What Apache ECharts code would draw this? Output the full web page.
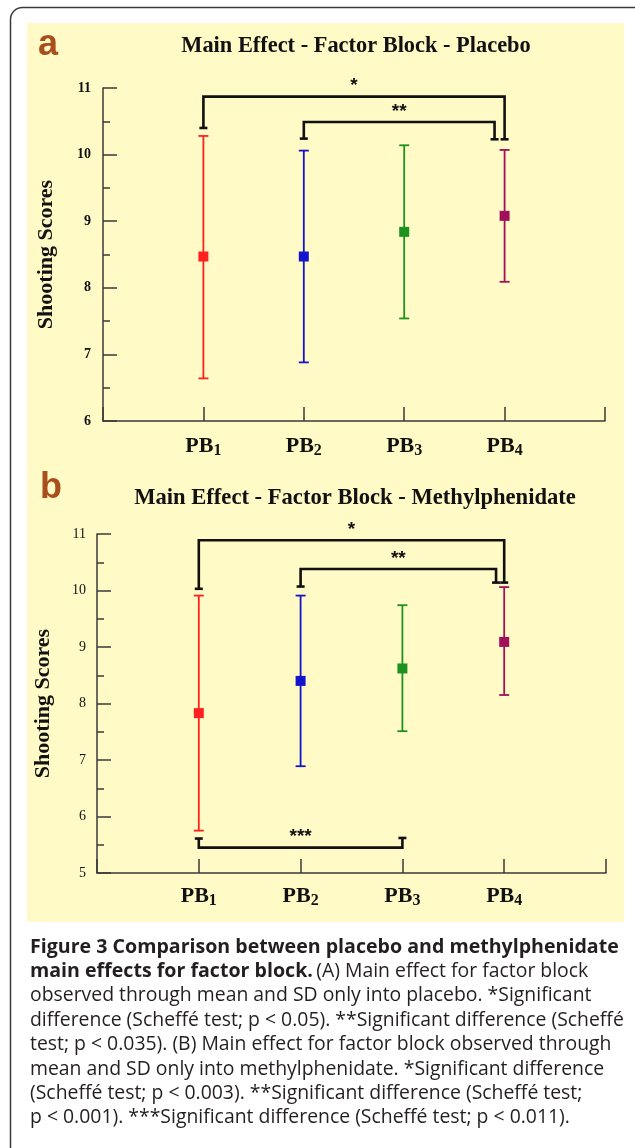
<!DOCTYPE html>
<html>
<head>
<meta charset="utf-8">
<style>
html, body { margin: 0; padding: 0; background: #fff; }
#chart { width: 635px; height: 1148px; }
</style>
<script src="https://cdn.jsdelivr.net/npm/echarts@6/dist/echarts.min.js"></script>
</head>
<body>
<div id="chart"></div>
<script>
// blocks on the x axis (PB + subscript)
var blocks = ['1', '2', '3', '4'];
var blockPos = [1, 2, 3, 4];
var blockColors = ['#ff2020', '#1414cc', '#1e921e', '#a0105c'];

// a - placebo (mean, mean - SD, mean + SD)
var placeboMean = [8.47, 8.47, 8.84, 9.08];
var placeboLow = [6.64, 6.88, 7.54, 8.09];
var placeboHigh = [10.28, 10.06, 10.14, 10.07];

// b - methylphenidate
var mphMean = [7.83, 8.40, 8.62, 9.09];
var mphLow = [5.75, 6.89, 7.51, 8.15];
var mphHigh = [9.91, 9.91, 9.74, 10.06];

// significance brackets: from, to, bar level, foot level at each end
var placeboBrFrom = [1, 2];
var placeboBrTo = [4, 3.9];
var placeboBrBar = [10.87, 10.49];
var placeboBrFootFrom = [10.40, 10.24];
var placeboBrFootTo = [10.23, 10.23];
var placeboBrLabel = ['*', '**'];

var mphBrFrom = [1, 2, 1];
var mphBrTo = [4, 3.92, 3];
var mphBrBar = [10.89, 10.38, 5.45];
var mphBrFootFrom = [10.03, 10.07, 5.61];
var mphBrFootTo = [10.14, 10.14, 5.62];
var mphBrLabel = ['*', '**', '***'];

var captionLines = [
    'observed through mean and SD only into placebo. *Significant',
    'difference (Scheff\u00e9 test; p < 0.05). **Significant difference (Scheff\u00e9',
    'test; p < 0.035). (B) Main effect for factor block observed through',
    'mean and SD only into methylphenidate. *Significant difference',
    '(Scheff\u00e9 test; p < 0.003). **Significant difference (Scheff\u00e9 test;',
    'p < 0.001). ***Significant difference (Scheff\u00e9 test; p < 0.011).'
];

var serif = 'Liberation Serif';
var sans = 'Liberation Sans';
var axisColor = '#3a3a3a';
var capFont = '19.4px "Open Sans"';
var capBold = 'bold 19.6px "Open Sans"';

function barData(mean, low, high) {
    return blockPos.map((x, i) => [x, mean[i], low[i], high[i]]);
}

function bracketData(from, to, bar, f1, f2) {
    return from.map((x, i) => [x, to[i], bar[i], f1[i], f2[i]]);
}

function renderErrorBar(params, api) {
    var c = blockColors[params.dataIndex];
    var x = api.value(0);
    var m = api.coord([x, api.value(1)]);
    var lo = api.coord([x, api.value(2)]);
    var hi = api.coord([x, api.value(3)]);
    var cap = 5, half = 5;
    var ls = {stroke: c, lineWidth: 1.8};
    return {
        type: 'group',
        children: [
            {type: 'line', shape: {x1: lo[0], y1: lo[1], x2: hi[0], y2: hi[1]}, style: ls},
            {type: 'line', shape: {x1: lo[0] - cap, y1: lo[1], x2: lo[0] + cap, y2: lo[1]}, style: ls},
            {type: 'line', shape: {x1: hi[0] - cap, y1: hi[1], x2: hi[0] + cap, y2: hi[1]}, style: ls},
            {type: 'rect', shape: {x: m[0] - half, y: m[1] - half, width: half * 2, height: half * 2}, style: {fill: c}}
        ]
    };
}

function bracketRenderer(labels) {
    return function (params, api) {
        var p1 = api.coord([api.value(0), api.value(3)]);
        var t1 = api.coord([api.value(0), api.value(2)]);
        var t2 = api.coord([api.value(1), api.value(2)]);
        var p2 = api.coord([api.value(1), api.value(4)]);
        var ls = {stroke: '#111', lineWidth: 2.6, fill: null};
        return {
            type: 'group',
            children: [
                {type: 'polyline', shape: {points: [p1, t1, t2, p2]}, style: ls},
                {type: 'line', shape: {x1: p1[0] - 4, y1: p1[1], x2: p1[0] + 4, y2: p1[1]}, style: ls},
                {type: 'line', shape: {x1: p2[0] - 4, y1: p2[1], x2: p2[0] + 4, y2: p2[1]}, style: ls},
                {type: 'text', x: (t1[0] + t2[0]) / 2, y: t1[1] - 1, style: {
                    text: labels[params.dataIndex], fill: '#111', align: 'center', verticalAlign: 'bottom',
                    font: 'bold 19px ' + sans
                }}
            ]
        };
    };
}

function xAxisFor(grid, margin) {
    return {
        gridIndex: grid,
        type: 'value',
        min: 0,
        max: 5,
        interval: 1,
        axisLine: {lineStyle: {color: axisColor, width: 1.5}},
        axisTick: {inside: true, length: 14, lineStyle: {color: axisColor, width: 1.5}},
        splitLine: {show: false},
        axisLabel: {
            margin: margin,
            showMinLabel: true,
            showMaxLabel: true,
            formatter: (v) => {
                var i = blockPos.indexOf(v);
                return i < 0 ? '' : '{p|PB}{s|' + blocks[i] + '}';
            },
            rich: {
                p: {fontFamily: serif, fontWeight: 'bold', fontSize: 22, color: '#111', lineHeight: 24, verticalAlign: 'top'},
                s: {fontFamily: serif, fontWeight: 'bold', fontSize: 16, color: '#111', lineHeight: 24,
                    verticalAlign: 'bottom', padding: [5, 0, 0, 0]}
            }
        }
    };
}

// main y axis: labels + long inside ticks
function yAxisFor(grid, min, gap, margin, bold) {
    return {
        gridIndex: grid,
        type: 'value',
        min: min,
        max: 11,
        interval: 1,
        name: 'Shooting Scores',
        nameLocation: 'middle',
        nameGap: gap,
        nameRotate: 90,
        nameTextStyle: {fontFamily: serif, fontWeight: 'bold', fontSize: 22, color: '#111'},
        axisLine: {show: true, lineStyle: {color: axisColor, width: 1.5}},
        axisTick: {inside: true, length: 14, lineStyle: {color: axisColor, width: 1.5}},
        splitLine: {show: false},
        axisLabel: {margin: margin, fontFamily: serif, fontWeight: bold ? 'bold' : 'normal', fontSize: 14, color: '#111'}
    };
}

// overlay y axis for the short half-unit ticks (minorTick can't point inside)
function halfTickAxis(grid, min) {
    return {
        gridIndex: grid,
        type: 'value',
        position: 'left',
        offset: 0,
        min: min,
        max: 11,
        interval: 0.5,
        axisLine: {show: false},
        axisTick: {show: true, inside: true, length: 7, lineStyle: {color: axisColor, width: 1.5}},
        axisLabel: {show: false},
        splitLine: {show: false}
    };
}

var chart = echarts.init(document.getElementById('chart'));

var graphics = [
    {type: 'rect', z: -20, shape: {x: 10.5, y: 7.5, width: 640, height: 1160, r: 12}, style: {fill: '#fff', stroke: '#3a3a3a', lineWidth: 1.5}},
    {type: 'rect', z: -10, shape: {x: 27, y: 23, width: 597, height: 899}, style: {fill: '#fffac6'}},
    {type: 'text', x: 38, y: 45, style: {text: 'a', font: 'bold 36px ' + sans, fill: '#a8501c', verticalAlign: 'middle'}},
    {type: 'text', x: 40, y: 488, style: {text: 'b', font: 'bold 36px ' + sans, fill: '#a8501c', verticalAlign: 'middle'}},
    {type: 'text', x: 30, y: 947, style: {
        text: 'Figure 3 Comparison between placebo and methylphenidate',
        font: capBold, fill: '#231f20', verticalAlign: 'middle'
    }},
    {type: 'text', x: 30, y: 971.4, style: {
        text: '{b|main effects for factor block.} {r|(A) Main effect for factor block}',
        verticalAlign: 'middle',
        rich: {
            b: {font: capBold, fill: '#231f20'},
            r: {font: capFont, fill: '#231f20'}
        }
    }}
];
captionLines.forEach((line, i) => {
    graphics.push({type: 'text', x: 30, y: 995.8 + i * 24.4, style: {
        text: line, font: capFont, fill: '#231f20', verticalAlign: 'middle'
    }});
});

var option = {
    backgroundColor: '#fff',
    animation: false,
    title: [
        {text: 'Main Effect - Factor Block - Placebo', left: 351, top: 30, textAlign: 'center',
            textStyle: {fontFamily: serif, fontWeight: 'bold', fontSize: 22.4, color: '#111'}},
        {text: 'Main Effect - Factor Block - Methylphenidate', left: 350, top: 482, textAlign: 'center',
            textStyle: {fontFamily: serif, fontWeight: 'bold', fontSize: 22.6, color: '#111'}}
    ],
    grid: [
        {left: 103, top: 88, width: 502, height: 333},
        {left: 97, top: 534, width: 509, height: 339}
    ],
    xAxis: [xAxisFor(0, 14), xAxisFor(1, 12)],
    yAxis: [
        yAxisFor(0, 6, 46, 12, true),
        halfTickAxis(0, 6),
        yAxisFor(1, 5, 43, 11, false),
        halfTickAxis(1, 5)
    ],
    graphic: graphics,
    series: [
        {type: 'custom', xAxisIndex: 0, yAxisIndex: 0, clip: false, renderItem: renderErrorBar,
            data: barData(placeboMean, placeboLow, placeboHigh)},
        {type: 'custom', xAxisIndex: 1, yAxisIndex: 2, clip: false, renderItem: renderErrorBar,
            data: barData(mphMean, mphLow, mphHigh)},
        {type: 'custom', xAxisIndex: 0, yAxisIndex: 0, clip: false, renderItem: bracketRenderer(placeboBrLabel),
            data: bracketData(placeboBrFrom, placeboBrTo, placeboBrBar, placeboBrFootFrom, placeboBrFootTo)},
        {type: 'custom', xAxisIndex: 1, yAxisIndex: 2, clip: false, renderItem: bracketRenderer(mphBrLabel),
            data: bracketData(mphBrFrom, mphBrTo, mphBrBar, mphBrFootFrom, mphBrFootTo)}
    ]
};

chart.setOption(option);
</script>
</body>
</html>
